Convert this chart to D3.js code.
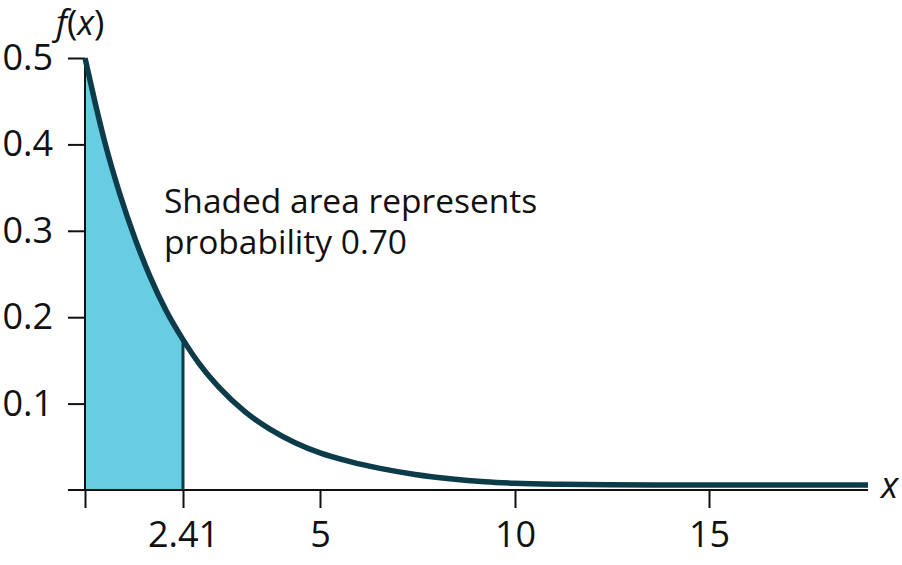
<!DOCTYPE html>
<html>
<head>
<meta charset="utf-8">
<script src="https://cdn.jsdelivr.net/npm/d3@7"></script>
<style>
  html, body { margin: 0; padding: 0; background: #fff; }
  svg { display: block; font-family: "Open Sans", "Noto Sans", sans-serif; }
</style>
</head>
<body>
<svg id="chart" width="902" height="565"></svg>
<script>
// ---- data ----
const xTicks = [0, 2.41, 5, 10, 15];
const xTickLabels = ["", "2.41", "5", "10", "15"];
const yTicks = [0.1, 0.2, 0.3, 0.4, 0.5];
const yTickLabels = ["0.1", "0.2", "0.3", "0.4", "0.5"];
const curveX = [0, 0.25, 0.49, 0.86, 1.23, 1.60, 1.99, 2.41, 2.73, 3.11, 3.58, 4.06, 4.53, 5, 5.77, 6.54, 7.44, 8.33, 9.23, 10, 11.16, 12.45, 13.74, 15, 17.09, 19.1];
const curveY = [0.5, 0.448, 0.402, 0.342, 0.291, 0.247, 0.208, 0.174, 0.145, 0.1175, 0.0906, 0.0702, 0.0547, 0.0429, 0.0328, 0.0250, 0.0180, 0.0130, 0.0095, 0.0078, 0.0066, 0.0060, 0.0058, 0.0058, 0.0058, 0.0058];
const cutoff = 2.41;
const annotation = ["Shaded area represents", "probability 0.70"];

// ---- scales (the reference axis is not drawn to a uniform scale) ----
const x = d3.scaleLinear()
  .domain([0, 2.41, 5, 10, 15, 19.1])
  .range([85, 183, 320, 515, 709, 868]);
const y = d3.scaleLinear().domain([0, 0.5]).range([490, 58]);

const svg = d3.select("#chart");
const pts = curveX.map((v, i) => ({ x: v, y: curveY[i] }));
const shaded = pts.filter(p => p.x <= cutoff);

const ink = "#0c3b4a";
const fontTick = "36px";

// shaded area
svg.append("path")
  .datum(shaded)
  .attr("fill", "#67cde2")
  .attr("d", d3.area().x(d => x(d.x)).y0(y(0)).y1(d => y(d.y)).curve(d3.curveMonotoneX));

// x axis
const xAxis = svg.append("g")
  .attr("transform", `translate(0,${y(0)})`)
  .call(d3.axisBottom(x).tickValues(xTicks).tickFormat((d, i) => xTickLabels[i]).tickSize(18).tickPadding(13).tickSizeOuter(0));
xAxis.select(".domain").remove();
xAxis.append("line").attr("x1", 68).attr("x2", 868).attr("y1", 0).attr("y2", 0)
  .attr("stroke", "#111").attr("stroke-width", 2);
xAxis.selectAll(".tick line").attr("stroke", "#111").attr("stroke-width", 2);
xAxis.selectAll(".tick text").attr("fill", "#111").style("font-size", fontTick).style("font-family", "Open Sans");

// y axis
const yAxis = svg.append("g")
  .attr("transform", `translate(${x(0)},0)`)
  .call(d3.axisLeft(y).tickValues(yTicks).tickFormat((d, i) => yTickLabels[i]).tickSize(17).tickPadding(15).tickSizeOuter(0));
yAxis.select(".domain").remove();
yAxis.append("line").attr("x1", 0).attr("x2", 0).attr("y1", y(0)).attr("y2", y(0.5))
  .attr("stroke", "#111").attr("stroke-width", 2);
yAxis.selectAll(".tick line").attr("stroke", "#111").attr("stroke-width", 2);
yAxis.selectAll(".tick text").attr("fill", "#111").style("font-size", fontTick).style("font-family", "Open Sans");

// cutoff line
svg.append("line")
  .attr("x1", x(cutoff)).attr("x2", x(cutoff))
  .attr("y1", y(0)).attr("y2", y(curveY[curveX.indexOf(cutoff)]))
  .attr("stroke", ink).attr("stroke-width", 3);

// density curve
svg.append("path")
  .datum(pts)
  .attr("fill", "none")
  .attr("stroke", ink)
  .attr("stroke-width", 5.5)
  .attr("d", d3.line().x(d => x(d.x)).y(d => y(d.y)).curve(d3.curveMonotoneX));

// axis titles
const fx = svg.append("text").attr("x", 56).attr("y", 35)
  .attr("fill", "#111").style("font-size", "35px");
fx.append("tspan").attr("font-style", "italic").text("f");
fx.append("tspan").text("(");
fx.append("tspan").attr("font-style", "italic").text("x");
fx.append("tspan").text(")");

svg.append("text").attr("x", 881).attr("y", 498)
  .attr("fill", "#111").attr("font-style", "italic").style("font-size", "36px").text("x");

// annotation (one text element per line)
svg.selectAll("text.ann")
  .data(annotation)
  .join("text")
  .attr("class", "ann")
  .attr("x", 164)
  .attr("y", (d, i) => 213 + i * 41)
  .attr("fill", "#111")
  .style("font-size", "33.5px")
  .text(d => d);
</script>
</body>
</html>
